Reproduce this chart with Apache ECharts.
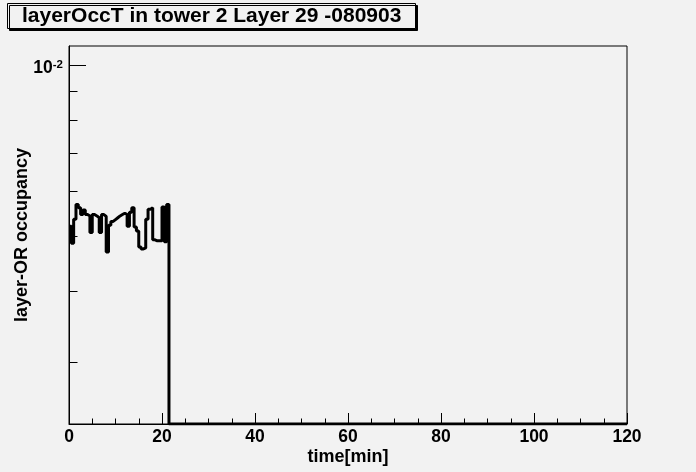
<!DOCTYPE html>
<html>
<head>
<meta charset="utf-8">
<script src="https://cdn.jsdelivr.net/npm/echarts@6/dist/echarts.min.js"></script>
<style>
  html, body { margin: 0; padding: 0; background: #f2f2f2; }
  #chart { width: 696px; height: 472px; }
</style>
</head>
<body>
<div id="chart"></div>
<script>
// ---- data ----
const titleText = 'layerOccT in tower 2 Layer 29 -080903';
const xAxisTitle = 'time[min]';
const yAxisTitle = 'layer-OR occupancy';
const binWidth = 0.5;              // minutes per histogram bin
const xRange = [0, 120];
const xTickStep = 20;
const yRange = [0.00233, 0.0108];  // log axis limits
// layer-OR occupancy per 0.5-min bin (x 1e-3), starting at t = 0
const occupancy = [
  5.20, 4.85, 5.35, 5.68, 5.60, 5.45, 5.55, 5.45, 5.42, 5.07,
  5.45, 5.42, 5.38, 5.07, 5.45, 5.41, 4.68, 5.22, 5.30, 5.34,
  5.38, 5.42, 5.45, 5.48, 5.45, 5.20, 5.50, 5.60, 5.18, 5.10,
  4.78, 4.74, 4.76, 5.35, 5.57, 5.60, 4.92, 4.90, 4.90, 4.90,
  5.62, 4.88, 5.68
];
// remaining bins up to 120 min are empty
const emptyBins = new Array(240 - 43).fill(0);
const yMajorTicks = [0.01];
const yMinorTicks = [0.003, 0.004, 0.005, 0.006, 0.007, 0.008, 0.009];

// ---- build ----
const FONT = "'Liberation Sans', Arial, Helvetica, sans-serif";
const allBins = occupancy.map(v => v * 1e-3).concat(emptyBins);
const points = allBins.map((v, i) => [i * binWidth, v > 0 ? v : yRange[0]]);
points.push([allBins.length * binWidth, points[points.length - 1][1]]);

function tickSeries(values, len) {
  return {
    type: 'custom',
    coordinateSystem: 'cartesian2d',
    silent: true,
    z: 5,
    clip: false,
    data: values.map(v => [xRange[0], v]),
    renderItem: function (params, api) {
      const p = api.coord([api.value(0), api.value(1)]);
      const y = Math.round(p[1]) + 0.5;
      return {
        type: 'line',
        shape: { x1: p[0], y1: y, x2: p[0] + len, y2: y },
        style: { stroke: '#000', lineWidth: 1 }
      };
    }
  };
}

const chart = echarts.init(document.getElementById('chart'));
chart.setOption({
  backgroundColor: '#f2f2f2',
  animation: false,
  title: {
    text: titleText,
    left: 7,
    top: 4,
    padding: [2, 14, 2, 15],
    backgroundColor: '#f2f2f2',
    borderColor: '#000',
    borderWidth: 1,
    shadowColor: '#000',
    shadowOffsetX: 2,
    shadowOffsetY: 2,
    shadowBlur: 0,
    textStyle: { fontFamily: FONT, fontSize: 21, fontWeight: 'bold', color: '#000', lineHeight: 20 }
  },
  grid: {
    left: 69, top: 46, width: 558, height: 378,
    containLabel: false,
    outerBoundsMode: 'none',
    show: true, backgroundColor: '#f2f2f2', borderColor: '#000', borderWidth: 1
  },
  xAxis: {
    type: 'value',
    min: xRange[0], max: xRange[1], interval: xTickStep,
    axisLine: { show: true, lineStyle: { color: '#000', width: 1 } },
    axisTick: { show: true, inside: true, length: 11, lineStyle: { color: '#000' } },
    minorTick: { show: true, splitNumber: 4, length: 5.5, lineStyle: { color: '#000' } },
    splitLine: { show: false },
    axisLabel: {
      showMinLabel: true, showMaxLabel: true,
      margin: 4, color: '#000', fontFamily: FONT, fontSize: 17.5, fontWeight: 'bold'
    },
    name: xAxisTitle,
    nameLocation: 'middle',
    nameGap: 24,
    nameMoveOverlap: false,
    nameTextStyle: { fontFamily: FONT, fontSize: 18, fontWeight: 'bold', color: '#000' }
  },
  yAxis: {
    type: 'log',
    logBase: 10,
    min: yRange[0], max: yRange[1],
    axisLine: { show: true, lineStyle: { color: '#000', width: 1 } },
    axisTick: { show: false },
    splitLine: { show: false },
    axisLabel: {
      margin: 6,
      color: '#000',
      formatter: function (v) {
        const e = Math.log10(v);
        if (Math.abs(e - Math.round(e)) < 1e-6) return '{b|10}{s|' + Math.round(e) + '}';
        return '';
      },
      rich: {
        b: { fontFamily: FONT, fontSize: 17.5, fontWeight: 'bold', color: '#000', padding: [7, 0, 0, 0] },
        s: { fontFamily: FONT, fontSize: 11.5, fontWeight: 'bold', color: '#000', verticalAlign: 'top', padding: [6, 0, 0, 0] }
      }
    },
    name: yAxisTitle,
    nameLocation: 'middle',
    nameRotate: 90,
    nameGap: 38,
    nameMoveOverlap: false,
    nameTextStyle: { fontFamily: FONT, fontSize: 18, fontWeight: 'bold', color: '#000' }
  },
  series: [
    {
      type: 'line',
      step: 'end',
      data: points,
      symbol: 'none',
      z: 10,
      lineStyle: { color: '#000', width: 3 }
    },
    tickSeries(yMajorTicks, 17),
    tickSeries(yMinorTicks, 8.5)
  ]
});
</script>
</body>
</html>
